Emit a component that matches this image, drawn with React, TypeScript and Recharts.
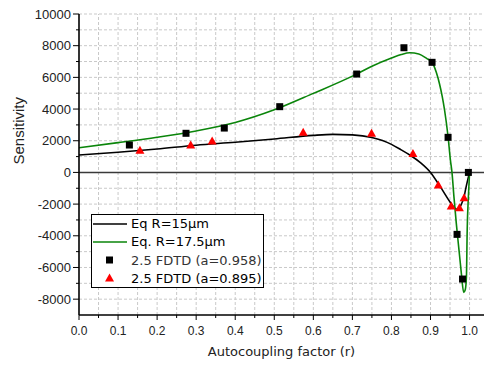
import React from "react";
import {
  ComposedChart,
  Line,
  Scatter,
  XAxis,
  YAxis,
  ReferenceLine,
} from "recharts";

// ---- data ----
const eq15X = [0, 0.1, 0.2, 0.3, 0.4, 0.5, 0.6, 0.65, 0.7, 0.75, 0.8, 0.825, 0.85, 0.875, 0.9, 0.925, 0.95, 0.96, 0.967, 0.975, 0.98, 0.985, 0.99, 0.995, 1.0];
const eq15Y = [1100, 1270, 1480, 1720, 1900, 2110, 2340, 2400, 2370, 2200, 1770, 1420, 1050, 600, 0, -900, -1870, -2200, -2320, -2200, -1950, -1650, -1050, -500, 0];

const eq175X = [0, 0.1, 0.2, 0.3, 0.4, 0.5, 0.6, 0.7, 0.75, 0.8, 0.825, 0.847, 0.87, 0.89, 0.904, 0.915, 0.923, 0.93, 0.936, 0.945, 0.951, 0.955, 0.96, 0.966, 0.973, 0.979, 0.985, 0.989, 0.992, 0.994, 0.997, 1.0];
const eq175Y = [1560, 1880, 2220, 2620, 3150, 3950, 4990, 6080, 6700, 7220, 7440, 7550, 7480, 7200, 6950, 6300, 5600, 4800, 3940, 2250, 780, 0, -1530, -3200, -4900, -6370, -7570, -7400, -6600, -3600, -1530, 0];

const fdtd958X = [0.129, 0.274, 0.372, 0.514, 0.711, 0.832, 0.904, 0.945, 0.968, 0.982, 0.997];
const fdtd958Y = [1730, 2470, 2800, 4150, 6210, 7870, 6950, 2215, -3910, -6730, 0];

const fdtd895X = [0.156, 0.286, 0.341, 0.574, 0.749, 0.855, 0.92, 0.953, 0.974, 0.986];
const fdtd895Y = [1400, 1730, 1980, 2530, 2470, 1200, -800, -2120, -2230, -1600];

const xTicks = [0, 0.05, 0.1, 0.15, 0.2, 0.25, 0.3, 0.35, 0.4, 0.45, 0.5, 0.55, 0.6, 0.65, 0.7, 0.75, 0.8, 0.85, 0.9, 0.95, 1.0];
const yTicks = [-8000, -7000, -6000, -5000, -4000, -3000, -2000, -1000, 0, 1000, 2000, 3000, 4000, 5000, 6000, 7000, 8000, 9000, 10000];
const xGrid = xTicks.filter((v) => v > 0);
const yGrid = yTicks.filter((v) => v !== 0);

const legendLabels = ["Eq R=15\u00b5m", "Eq. R=17.5\u00b5m", "2.5 FDTD (a=0.958)", "2.5 FDTD (a=0.895)"];

const zip = (xs: number[], ys: number[]) => xs.map((x, i) => ({ x, y: ys[i] }));
const eq15Data = zip(eq15X, eq15Y);
const eq175Data = zip(eq175X, eq175Y);
const sq958Data = zip(fdtd958X, fdtd958Y);
const tri895Data = zip(fdtd895X, fdtd895Y);

const GREEN = "#0a850a";
const RED = "#ff0000";

const Square = (props: any) => {
  const { cx, cy } = props;
  if (cx == null || cy == null) return null;
  return <rect x={cx - 3.5} y={cy - 3.5} width={7} height={7} fill="#000" />;
};

const Triangle = (props: any) => {
  const { cx, cy } = props;
  if (cx == null || cy == null) return null;
  return <polygon points={`${cx},${cy - 4.5} ${cx - 4.5},${cy + 3.5} ${cx + 4.5},${cy + 3.5}`} fill={RED} />;
};

const XTick = (props: any) => {
  const { x, y, payload } = props;
  const v = payload.value;
  const major = Math.abs(v * 10 - Math.round(v * 10)) < 1e-6;
  return (
    <g>
      <line x1={x} y1={y} x2={x} y2={y + (major ? 5 : 3)} stroke="#000" strokeWidth={1} />
      {major && (
        <text x={x} y={y + 16} textAnchor="middle" dominantBaseline="central" fontSize={12} fontFamily="Liberation Sans, Arial, sans-serif" fill="#222">
          {v.toFixed(1)}
        </text>
      )}
    </g>
  );
};

const YTick = (props: any) => {
  const { x, y, payload } = props;
  const v = payload.value;
  const major = v % 2000 === 0;
  return (
    <g>
      <line x1={x} y1={y} x2={x - (major ? 6 : 3)} y2={y} stroke="#000" strokeWidth={1} />
      {major && (
        <text x={x - 8} y={y} textAnchor="end" dominantBaseline="central" fontSize={13} fontFamily="Liberation Sans, Arial, sans-serif" fill="#222">
          {v}
        </text>
      )}
    </g>
  );
};

const LegendBox = () => {
  const ff = "DejaVu Sans, Verdana, sans-serif";
  const rows = [9.5, 27.5, 46, 64];
  return (
    <svg width={174} height={75} style={{ display: "block" }}>
      <rect x={0.5} y={0.5} width={172} height={73} fill="#fff" stroke="#000" strokeWidth={1} />
      <line x1={2} x2={36} y1={rows[0] + 0.5} y2={rows[0] + 0.5} stroke="#000" strokeWidth={1.5} />
      <line x1={2} x2={36} y1={rows[1] + 0.5} y2={rows[1] + 0.5} stroke={GREEN} strokeWidth={1.5} />
      <rect x={18.5 - 3.5} y={rows[2] - 3.5} width={7} height={7} fill="#000" />
      <polygon points={`18.5,${rows[3] - 4.5} 14,${rows[3] + 3.5} 23,${rows[3] + 3.5}`} fill={RED} />
      {legendLabels.map((t, i) => (
        <text key={t} x={40} y={rows[i]} dominantBaseline="central" fontSize={13} fontFamily={ff} fill={i === 2 ? "#333" : "#000"}>
          {t}
        </text>
      ))}
    </svg>
  );
};

export default function App() {
  return (
    <div style={{ position: "absolute", left: 0, top: 0, width: 484, height: 365, background: "#fff" }}>
      <ComposedChart width={484} height={365} margin={{ top: 14, right: 0, bottom: 0, left: 0 }}>
        {xGrid.map((v) => (
          <ReferenceLine key={"gx" + v} x={v} stroke="#c9c9c9" strokeDasharray="3 2" strokeWidth={1} />
        ))}
        {yGrid.map((v) => (
          <ReferenceLine key={"gy" + v} y={v} stroke="#c9c9c9" strokeDasharray="3 2" strokeWidth={1} />
        ))}
        <ReferenceLine y={0} stroke="#3a3a3a" strokeWidth={1.5} />
        <XAxis
          dataKey="x"
          type="number"
          domain={[0, 1.037]}
          ticks={xTicks}
          interval={0}
          allowDataOverflow
          height={50}
          tickSize={0}
          tickMargin={0}
          tickLine={false}
          tick={<XTick />}
          axisLine={{ stroke: "#000", strokeWidth: 1.6 }}
          label={{ value: "Autocoupling factor (r)", position: "insideBottom", offset: 9, fontSize: 13, fontFamily: "DejaVu Sans, Verdana, sans-serif", fill: "#222" }}
        />
        <YAxis
          type="number"
          domain={[-9000, 10000]}
          ticks={yTicks}
          interval={0}
          allowDataOverflow
          width={79}
          tickSize={0}
          tickMargin={0}
          tickLine={false}
          tick={<YTick />}
          axisLine={{ stroke: "#000", strokeWidth: 1.6 }}
          label={{ value: "Sensitivity", angle: -90, position: "insideLeft", offset: 19, fontSize: 15, fontFamily: "Liberation Sans, Arial, sans-serif", fill: "#222" }}
        />
        <Line data={eq15Data} dataKey="y" type="monotone" stroke="#000" strokeWidth={1.6} dot={false} isAnimationActive={false} name={legendLabels[0]} />
        <Line data={eq175Data} dataKey="y" type="monotone" stroke={GREEN} strokeWidth={1.6} dot={false} isAnimationActive={false} name={legendLabels[1]} />
        <Scatter data={sq958Data} dataKey="y" shape={<Square />} isAnimationActive={false} name={legendLabels[2]} />
        <Scatter data={tri895Data} dataKey="y" shape={<Triangle />} isAnimationActive={false} name={legendLabels[3]} />
      </ComposedChart>
      <div style={{ position: "absolute", left: 91, top: 214 }}>
        <LegendBox />
      </div>
    </div>
  );
}
